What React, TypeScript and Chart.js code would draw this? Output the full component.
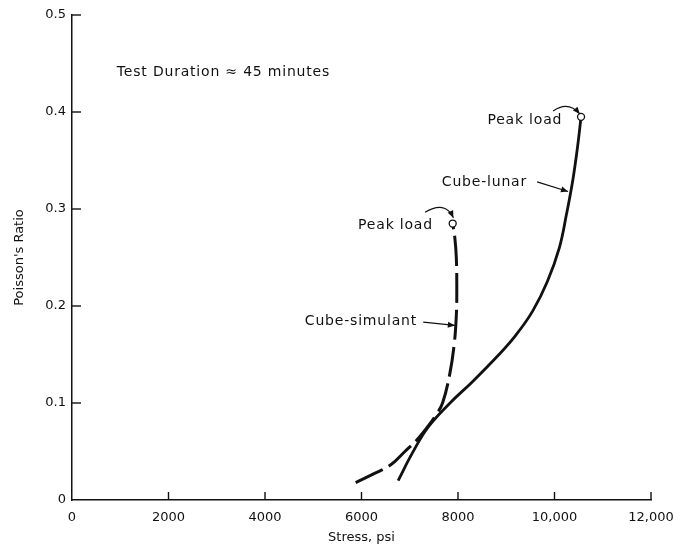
import React, { useEffect, useRef } from "react";
import { Chart, registerables } from "chart.js";

Chart.register(...registerables);

// ---- data ----
const lunarStress = [6760, 7050, 7380, 7835, 8300, 8850, 9200, 9550, 9850, 10100, 10250, 10380, 10480, 10550];
const lunarRatio = [0.02, 0.048, 0.075, 0.1, 0.122, 0.15, 0.17, 0.195, 0.225, 0.26, 0.295, 0.33, 0.365, 0.395];

const simulantStress = [5880, 6250, 6600, 6900, 7150, 7380, 7550, 7680, 7830, 7920, 7965, 7975, 7965, 7935, 7890];
const simulantRatio = [0.018, 0.027, 0.036, 0.05, 0.062, 0.076, 0.088, 0.1, 0.13, 0.16, 0.19, 0.22, 0.25, 0.27, 0.285];

const xTicks = [0, 2000, 4000, 6000, 8000, 10000, 12000];
const yTicks = [0, 0.1, 0.2, 0.3, 0.4, 0.5];

const xTitle = "Stress, psi";
const yTitle = "Poisson's Ratio";
const noteText = "Test Duration \u2248 45 minutes";
const peakLabel = "Peak load";
const lunarLabel = "Cube-lunar";
const simulantLabel = "Cube-simulant";

// annotation anchors in data units
const notePos = [930, 0.441];
const simPeakTextPos = [7480, 0.283];
const lunarPeakTextPos = [10160, 0.391];
const lunarTextPos = [9430, 0.327];
const simTextPos = [7150, 0.184];
const lunarArrow = [[9640, 0.328], [10280, 0.318]];
const simArrow = [[7280, 0.1834], [7935, 0.18]];
const simPeakArrow = [[7318, 0.2966], [7732, 0.309], [7905, 0.291]];
const lunarPeakArrow = [[9971, 0.401], [10282, 0.412], [10525, 0.398]];

const FONT = '"DejaVu Sans", "Liberation Sans", sans-serif';
const INK = "#111";

function arrowHead(ctx: CanvasRenderingContext2D, x: number, y: number, ang: number) {
  const L = 7, W = 3;
  ctx.beginPath();
  ctx.moveTo(x, y);
  ctx.lineTo(x - L * Math.cos(ang) + W * Math.sin(ang), y - L * Math.sin(ang) - W * Math.cos(ang));
  ctx.lineTo(x - L * Math.cos(ang) - W * Math.sin(ang), y - L * Math.sin(ang) + W * Math.cos(ang));
  ctx.closePath();
  ctx.fill();
}

const overlay = {
  id: "overlay",
  afterDraw(chart: any) {
    const { ctx, scales } = chart;
    const xs = scales.x, ys = scales.y;
    const px = (v: number) => xs.getPixelForValue(v);
    const py = (v: number) => ys.getPixelForValue(v);
    ctx.save();
    ctx.strokeStyle = INK;
    ctx.fillStyle = INK;
    ctx.lineWidth = 1.4;
    // inward ticks
    const x0 = px(0), y0 = py(0);
    for (const v of yTicks) {
      if (v === 0) continue;
      ctx.beginPath();
      ctx.moveTo(x0, py(v));
      ctx.lineTo(x0 + 9, py(v));
      ctx.stroke();
    }
    for (const v of xTicks) {
      if (v === 0) continue;
      ctx.beginPath();
      ctx.moveTo(px(v), y0);
      ctx.lineTo(px(v), y0 - 8);
      ctx.stroke();
    }
    // texts
    ctx.font = `14px ${FONT}`;
    try { (ctx as any).letterSpacing = "0.8px"; } catch (e) {}
    ctx.textBaseline = "middle";
    ctx.textAlign = "left";
    ctx.fillText(noteText, px(notePos[0]), py(notePos[1]));
    ctx.textAlign = "right";
    ctx.fillText(peakLabel, px(simPeakTextPos[0]), py(simPeakTextPos[1]));
    ctx.fillText(peakLabel, px(lunarPeakTextPos[0]), py(lunarPeakTextPos[1]));
    ctx.fillText(lunarLabel, px(lunarTextPos[0]), py(lunarTextPos[1]));
    ctx.fillText(simulantLabel, px(simTextPos[0]), py(simTextPos[1]));
    try { (ctx as any).letterSpacing = "0px"; } catch (e) {}
    // straight arrows
    ctx.lineWidth = 1.2;
    for (const a of [lunarArrow, simArrow]) {
      const [x1, y1] = [px(a[0][0]), py(a[0][1])];
      const [x2, y2] = [px(a[1][0]), py(a[1][1])];
      ctx.beginPath();
      ctx.moveTo(x1, y1);
      ctx.lineTo(x2, y2);
      ctx.stroke();
      arrowHead(ctx, x2, y2, Math.atan2(y2 - y1, x2 - x1));
    }
    // curved arrows
    for (const a of [simPeakArrow, lunarPeakArrow]) {
      const [x1, y1] = [px(a[0][0]), py(a[0][1])];
      const [cx, cy] = [px(a[1][0]), py(a[1][1])];
      const [x2, y2] = [px(a[2][0]), py(a[2][1])];
      ctx.beginPath();
      ctx.moveTo(x1, y1);
      ctx.quadraticCurveTo(cx, cy, x2, y2);
      ctx.stroke();
      arrowHead(ctx, x2, y2, Math.atan2(y2 - cy, x2 - cx));
    }
    ctx.restore();
  },
};

export default function App() {
  const ref = useRef<HTMLCanvasElement | null>(null);
  useEffect(() => {
    if (!ref.current) return;
    const lunar = lunarStress.map((x, i) => ({ x, y: lunarRatio[i] }));
    const sim = simulantStress.map((x, i) => ({ x, y: simulantRatio[i] }));
    const lastRadius = (n: number) => (c: any) => (c.dataIndex === n - 1 ? 3.5 : 0);
    const chart = new Chart(ref.current, {
      type: "line",
      data: {
        datasets: [
          {
            label: lunarLabel,
            data: lunar,
            borderColor: INK,
            borderWidth: 2.8,
            tension: 0.4,
            fill: false,
            pointRadius: lastRadius(lunar.length),
            pointBackgroundColor: "#fff",
            pointBorderColor: INK,
            pointBorderWidth: 1.3,
          },
          {
            label: simulantLabel,
            data: sim,
            borderColor: INK,
            borderWidth: 3,
            borderDash: [30, 7],
            tension: 0.4,
            fill: false,
            pointRadius: lastRadius(sim.length),
            pointBackgroundColor: "#fff",
            pointBorderColor: INK,
            pointBorderWidth: 1.3,
          },
        ],
      },
      options: {
        responsive: false,
        animation: false,
        devicePixelRatio: 1,
        layout: { padding: { left: 8, top: 15, right: 40, bottom: 0 } },
        plugins: { legend: { display: false }, tooltip: { enabled: false } },
        scales: {
          x: {
            type: "linear",
            min: 0,
            max: 12000,
            afterFit: (s: any) => { s.height = 49; },
            afterBuildTicks: (s: any) => { s.ticks = xTicks.map((v) => ({ value: v })); },
            grid: { display: false, drawTicks: false },
            border: { display: true, color: INK, width: 1.5 },
            ticks: {
              color: INK,
              padding: 10,
              font: { family: FONT, size: 13 },
              callback: (v: any) => (Number(v) >= 10000 ? Number(v).toLocaleString("en-US") : String(v)),
            },
            title: { display: true, text: xTitle, color: INK, font: { family: FONT, size: 13 }, padding: { top: 4, bottom: 4 } },
          },
          y: {
            type: "linear",
            min: 0,
            max: 0.5,
            afterFit: (s: any) => { s.width = 64; },
            afterBuildTicks: (s: any) => { s.ticks = yTicks.map((v) => ({ value: v })); },
            grid: { display: false, drawTicks: false },
            border: { display: true, color: INK, width: 1.5 },
            ticks: {
              color: INK,
              padding: 6,
              font: { family: FONT, size: 13 },
              callback: (v: any) => (Number(v) === 0 ? "0" : Number(v).toFixed(1)),
            },
            title: { display: true, text: yTitle, color: INK, font: { family: FONT, size: 13 }, padding: { top: 4, bottom: 4 } },
          },
        },
      },
      plugins: [overlay],
    });
    return () => chart.destroy();
  }, []);
  return (
    <div style={{ position: "absolute", left: 0, top: 0, width: 691, height: 549, background: "#fff" }}>
      <canvas ref={ref} width={691} height={549} style={{ width: 691, height: 549 }} />
    </div>
  );
}
